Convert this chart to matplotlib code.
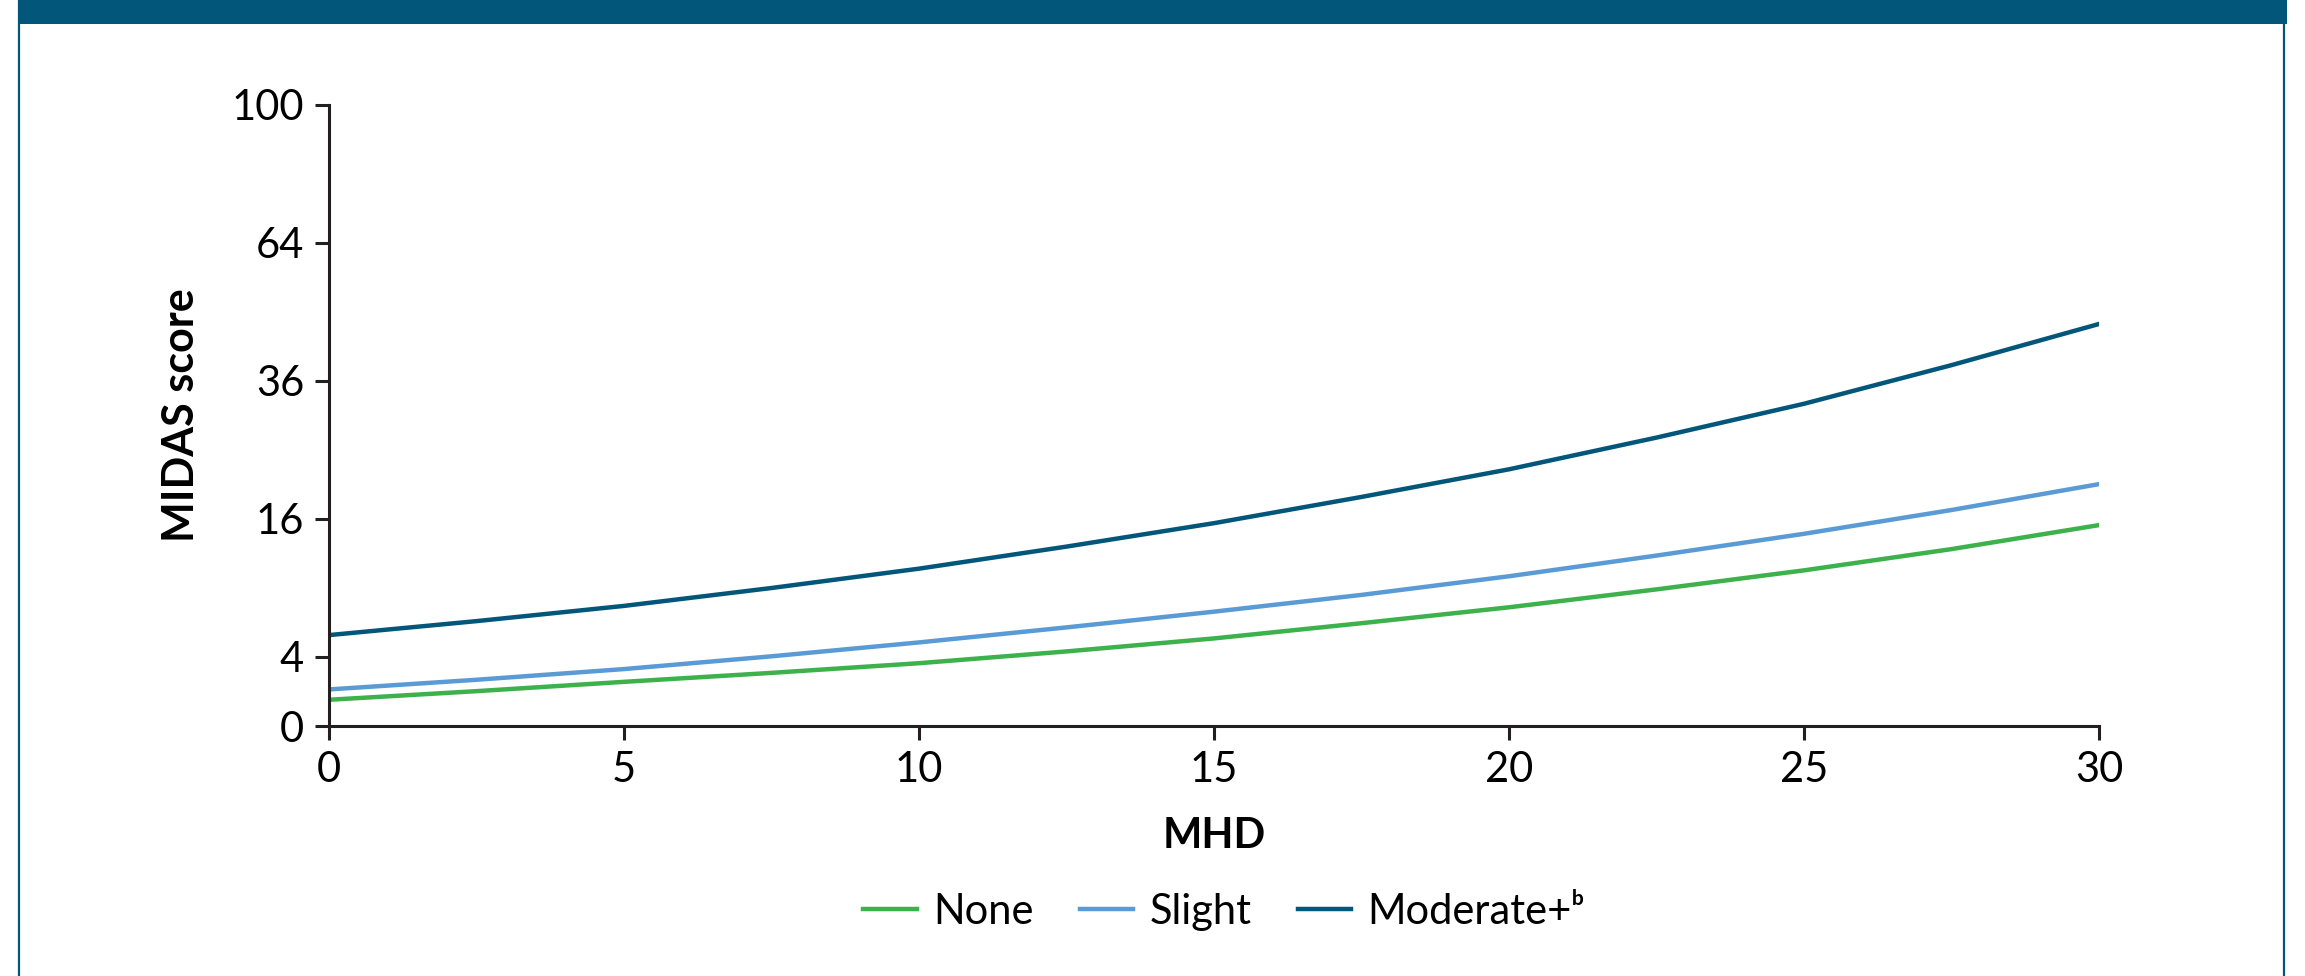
import matplotlib
matplotlib.use("Agg")
import matplotlib.pyplot as plt
from matplotlib.patches import Rectangle
from matplotlib.lines import Line2D
import numpy as np

plt.rcParams['font.family'] = ['Lato', 'DejaVu Sans']

mhd = [0, 2.5, 5, 7.5, 10, 12.5, 15, 17.5, 20, 22.5, 25, 27.5, 30]
# predicted MIDAS score per group
none_vals = [1.52, 2.02, 2.56, 3.08, 3.64, 4.33, 5.15, 6.2, 7.4, 8.88, 10.6, 12.7, 15.3]
slight_vals = [2.12, 2.68, 3.3, 4.04, 4.89, 5.9, 7.06, 8.41, 10.05, 12.04, 14.33, 17.06, 20.3]
moderate_vals = [5.37, 6.35, 7.51, 9.0, 10.76, 12.96, 15.52, 18.66, 22.28, 26.83, 32.15, 38.81, 46.6]

series_names = ['None', 'Slight', 'Moderate+ᵇ']
y_ticks = [0, 4, 16, 36, 64, 100]
x_ticks = [0, 5, 10, 15, 20, 25, 30]

c_green = '#3db14b'
c_light = '#5b9bd5'
c_dark = '#02567a'
c_axis = '#231f20'


# square-root axis, linear stretch below 4 so that 0 sits one step under 4
def fwd(y):
    y = np.asarray(y, dtype=float)
    return np.where(y < 4, 1 + y / 4.0, np.sqrt(np.clip(y, 4, None)))


def inv(s):
    s = np.asarray(s, dtype=float)
    return np.where(s < 2, 4 * (s - 1), s ** 2)


W, H = 2305, 976
fig = plt.figure(figsize=(W / 100, H / 100), dpi=100)

# header band and frame
fig.patches.append(Rectangle((18 / W, 1 - 24 / H), (2287 - 18) / W, 24 / H,
                             transform=fig.transFigure, facecolor=c_dark,
                             edgecolor='none'))
for xb in (19, 2284):
    fig.lines.append(Line2D([xb / W, xb / W], [0, 1], transform=fig.transFigure,
                            color=c_dark, linewidth=1.6))

ax = fig.add_axes([329 / W, 1 - 726 / H, (2099 - 329) / W, (726 - 105) / H])
ax.set_yscale('function', functions=(fwd, inv))

ax.plot(mhd, none_vals, color=c_green, lw=3.2, label=series_names[0])
ax.plot(mhd, slight_vals, color=c_light, lw=3.2, label=series_names[1])
ax.plot(mhd, moderate_vals, color=c_dark, lw=3.2, label=series_names[2])

ax.set_xlim(0, 30)
ax.set_ylim(0, 100)
ax.set_xticks(x_ticks)
ax.set_yticks(y_ticks)
ax.set_yticklabels([str(t) for t in y_ticks])
ax.minorticks_off()

for s in ('top', 'right'):
    ax.spines[s].set_visible(False)
for s in ('left', 'bottom'):
    ax.spines[s].set_color(c_axis)
    ax.spines[s].set_linewidth(2.2)
ax.tick_params(axis='both', length=10, width=2.2, color=c_axis,
               labelsize=30, pad=8, labelcolor='black')

ax.set_xlabel('MHD', fontsize=30, fontweight='bold', labelpad=20)
ax.set_ylabel('MIDAS score', fontsize=31, fontweight='bold', labelpad=22)

leg = ax.legend(loc='center', bbox_to_anchor=(1224 / W, 1 - 912 / H),
                bbox_transform=fig.transFigure, ncol=3, frameon=False,
                fontsize=30, handlelength=1.28, handletextpad=0.4,
                columnspacing=1.1)

fig.savefig('out.png', dpi=100, facecolor='white')
